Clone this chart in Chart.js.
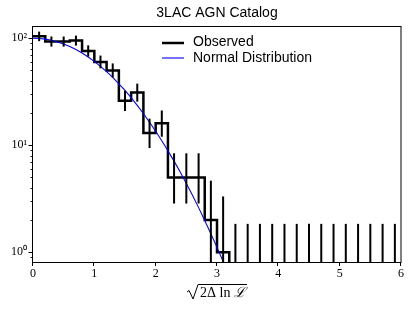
<!DOCTYPE html>
<html>
<head>
<meta charset="utf-8">
<script src="https://cdn.jsdelivr.net/npm/chart.js@4.4.1/dist/chart.umd.min.js"></script>
<style>
  html, body { margin: 0; padding: 0; background: #fff; }
  #wrap { width: 415px; height: 311px; }
</style>
</head>
<body>
<div id="wrap"><canvas id="chart" width="415" height="311"></canvas></div>
<script>
// histogram bins of sqrt(2 dlnL), width 0.2
const binEdges = [0, 0.2, 0.4, 0.6, 0.8, 1.0, 1.2, 1.4, 1.6, 1.8, 2.0, 2.2, 2.4, 2.6, 2.8, 3.0,
                  3.2, 3.4, 3.6, 3.8, 4.0, 4.2, 4.4, 4.6, 4.8, 5.0, 5.2, 5.4, 5.6, 5.8, 6.0];
const observed = [104, 93, 93, 95, 76, 60, 50, 26, 31, 13, 16, 5, 5, 5, 2, 1,
                  0, 0, 0, 0, 0, 0, 0, 0, 0, 0, 0, 0, 0, 0];
const errHigh = [115.2, 103.7, 103.7, 105.8, 85.8, 68.8, 58.1, 32.2, 37.6, 17.7, 21.1, 8.4, 8.4, 8.4, 4.66, 3.32,
                 1.84, 1.84, 1.84, 1.84, 1.84, 1.84, 1.84, 1.84, 1.84, 1.84, 1.84, 1.84, 1.84, 1.84];
const errLow = [93.8, 83.4, 83.4, 85.3, 67.3, 52.3, 43.0, 20.9, 25.5, 9.4, 12.0, 2.85, 2.85, 2.85, 0.71, 0.17,
                0, 0, 0, 0, 0, 0, 0, 0, 0, 0, 0, 0, 0, 0];

// expected counts from the normal distribution
const curveX = [0, 0.1, 0.2, 0.3, 0.4, 0.5, 0.6, 0.7, 0.8, 0.9, 1.0, 1.1, 1.2, 1.3, 1.4, 1.5, 1.6,
                1.7, 1.8, 1.9, 2.0, 2.1, 2.2, 2.3, 2.4, 2.5, 2.6, 2.7, 2.8, 2.9, 3.0, 3.1, 3.2];
const curveY = [100, 99.5, 98.0, 95.6, 92.3, 88.2, 83.5, 78.3, 72.6, 66.7, 60.7, 54.6, 48.7, 43.0, 37.5, 32.5, 27.8,
                23.6, 19.8, 16.4, 13.5, 11.0, 8.89, 7.10, 5.61, 4.39, 3.41, 2.61, 1.98, 1.49, 1.11, 0.82, 0.60];

const xTicks = [0, 1, 2, 3, 4, 5, 6];
const yTicks = [1, 10, 100];
const yMinorTicks = [0.9, 2, 3, 4, 5, 6, 7, 8, 9, 20, 30, 40, 50, 60, 70, 80, 90];

const sup = { 0: '\u2070', 1: '\u00b9', 2: '\u00b2' };

// step outline of the histogram
const stepPoints = [];
observed.forEach(function (n, i) {
    if (n > 0) {
        stepPoints.push({ x: binEdges[i], y: n });
        stepPoints.push({ x: binEdges[i + 1], y: n });
    }
});
stepPoints.push({ x: stepPoints[stepPoints.length - 1].x, y: 0.5 });

const curvePoints = curveX.map(function (x, i) { return { x: x, y: curveY[i] }; });

const errorBars = {
    id: "errorBars",
    afterDatasetsDraw(chart) {
        const { ctx, chartArea: a, scales: { x, y } } = chart;
        ctx.save();
        ctx.beginPath();
        ctx.rect(a.left, a.top, a.right - a.left, a.bottom - a.top);
        ctx.clip();
        ctx.strokeStyle = "#000";
        ctx.lineWidth = 2;
        observed.forEach(function (n, i) {
            const px = x.getPixelForValue((binEdges[i] + binEdges[i + 1]) / 2);
            const lo = errLow[i] > 0 ? y.getPixelForValue(errLow[i]) : a.bottom + 5;
            const hi = y.getPixelForValue(errHigh[i]);
            ctx.beginPath();
            ctx.moveTo(px, lo);
            ctx.lineTo(px, hi);
            ctx.stroke();
        });
        ctx.restore();
    }
};

const decorations = {
    id: "decorations",
    afterDraw(chart) {
        const { ctx, chartArea: a, scales: { x, y } } = chart;
        ctx.save();

        // frame
        ctx.strokeStyle = "#000";
        ctx.lineWidth = 1;
        ctx.strokeRect(a.left - 0.5, a.top + 0.5, a.right - a.left + 0.5, a.bottom - a.top);

        // tick marks
        ctx.beginPath();
        xTicks.forEach(function (v) {
            const px = Math.round(x.getPixelForValue(v)) - 0.5;
            ctx.moveTo(px, a.bottom);
            ctx.lineTo(px, a.bottom + 4);
        });
        yTicks.forEach(function (v) {
            const py = Math.round(y.getPixelForValue(v)) + 0.5;
            ctx.moveTo(a.left, py);
            ctx.lineTo(a.left - 4.5, py);
        });
        ctx.stroke();
        ctx.beginPath();
        ctx.lineWidth = 0.9;
        yMinorTicks.forEach(function (v) {
            const py = Math.round(y.getPixelForValue(v)) + 0.5;
            ctx.moveTo(a.left, py);
            ctx.lineTo(a.left - 2.5, py);
        });
        ctx.stroke();

        // title
        ctx.fillStyle = "#000";
        ctx.font = "14px 'Liberation Sans'";
        ctx.textAlign = "center";
        ctx.textBaseline = "middle";
        ctx.fillText("3LAC AGN Catalog", (a.left + a.right) / 2, 13);

        // legend
        ctx.textAlign = "left";
        ctx.lineWidth = 2.5;
        ctx.strokeStyle = "#000";
        ctx.beginPath(); ctx.moveTo(162, 43); ctx.lineTo(184, 43); ctx.stroke();
        ctx.lineWidth = 1.1;
        ctx.strokeStyle = "#0000ff";
        ctx.beginPath(); ctx.moveTo(162, 58); ctx.lineTo(184, 58); ctx.stroke();
        ctx.font = "14px 'Liberation Sans'";
        ctx.fillText("Observed", 193, 42);
        ctx.fillText("Normal Distribution", 193, 58);

        // x label: sqrt(2 Delta ln L)
        ctx.font = "14px 'Liberation Serif'";
        const main = "2\u0394 ln ";
        const wMain = ctx.measureText(main).width;
        ctx.font = "italic 14px 'DejaVu Serif'";
        const wL = ctx.measureText("\u2112").width;
        const textW = wMain + wL + 2;
        const rootW = 12;
        const x0 = (a.left + a.right) / 2 - (rootW + textW) / 2;
        ctx.strokeStyle = "#000";
        ctx.lineWidth = 1;
        ctx.beginPath();
        ctx.moveTo(x0, 292);
        ctx.lineTo(x0 + 2, 290.5);
        ctx.lineTo(x0 + 6, 299);
        ctx.lineTo(x0 + 11, 284.5);
        ctx.lineTo(x0 + rootW + textW, 284.5);
        ctx.stroke();
        ctx.textBaseline = "alphabetic";
        ctx.font = "14px 'Liberation Serif'";
        ctx.fillText(main, x0 + rootW + 1, 297);
        ctx.font = "italic 14px 'DejaVu Serif'";
        ctx.fillText("\u2112", x0 + rootW + 1 + wMain, 297);

        ctx.restore();
    }
};

const ctx = document.getElementById("chart").getContext("2d");
new Chart(ctx, {
    type: "line",
    data: {
        datasets: [
            {
                label: "Normal Distribution",
                data: curvePoints,
                borderColor: "#0000ff",
                borderWidth: 1.1,
                pointRadius: 0,
                tension: 0,
                fill: false,
                clip: 0
            },
            {
                label: "Observed",
                data: stepPoints,
                borderColor: "#000",
                borderWidth: 2.5,
                pointRadius: 0,
                tension: 0,
                fill: false,
                clip: 0
            }
        ]
    },
    options: {
        responsive: false,
        animation: false,
        devicePixelRatio: 1,
        layout: { padding: { left: 0, right: 14, top: 26, bottom: 0 } },
        plugins: {
            legend: { display: false },
            title: { display: false },
            tooltip: { enabled: false }
        },
        scales: {
            x: {
                type: "linear",
                min: 0,
                max: 6,
                afterBuildTicks: function (s) { s.ticks = xTicks.map(function (v) { return { value: v }; }); },
                afterFit: function (s) { s.height = 49; },
                grid: { display: true, drawOnChartArea: false, drawTicks: false },
                border: { display: false },
                ticks: {
                    color: "#000",
                    padding: 5,
                    maxRotation: 0,
                    autoSkip: false,
                    font: { family: "'Liberation Serif'", size: 12 }
                }
            },
            y: {
                type: "logarithmic",
                min: 0.81,
                max: 130,
                afterBuildTicks: function (s) { s.ticks = yTicks.map(function (v) { return { value: v }; }); },
                afterFit: function (s) { s.width = 33; },
                grid: { display: true, drawOnChartArea: false, drawTicks: false },
                border: { display: false },
                ticks: {
                    color: "#000",
                    padding: 6,
                    autoSkip: false,
                    font: { family: "'Liberation Serif'", size: 12 },
                    callback: function (v) { return "10" + sup[Math.round(Math.log10(v))]; }
                }
            }
        }
    },
    plugins: [errorBars, decorations]
});
</script>
</body>
</html>
